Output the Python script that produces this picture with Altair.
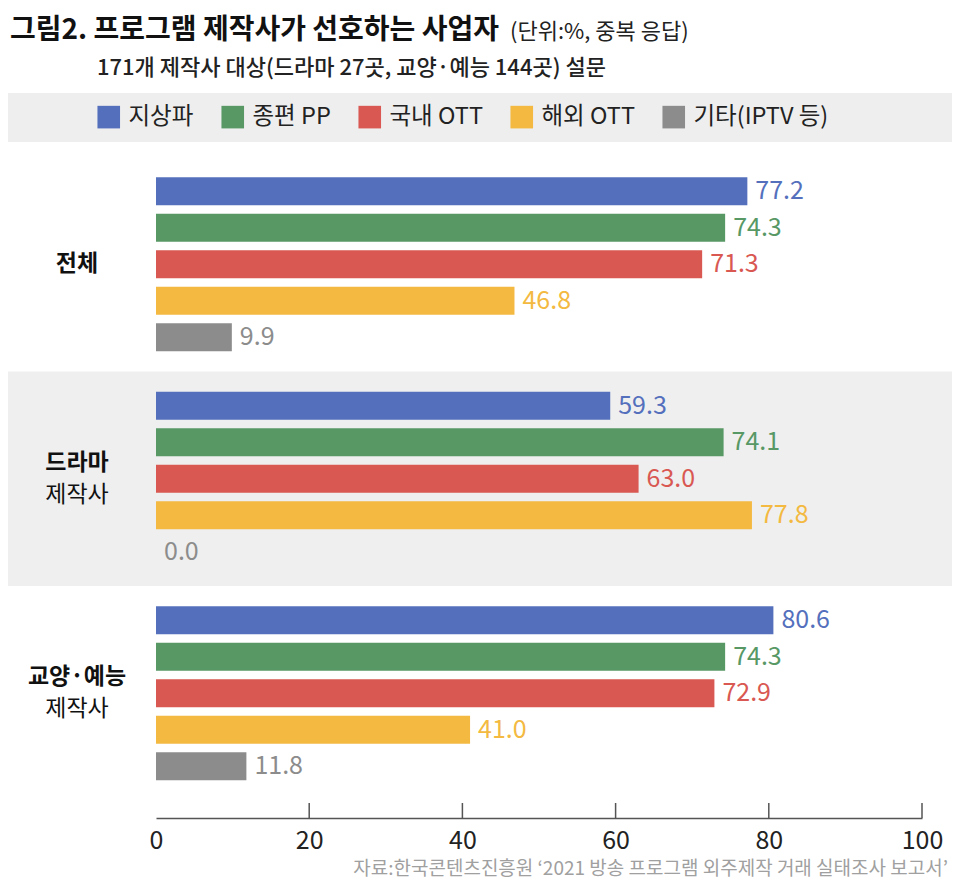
import altair as alt
import pandas as pd

F = "Noto Sans CJK KR"

groups = ["전체", "드라마", "교양·예능"]
series = ["지상파", "종편 PP", "국내 OTT", "해외 OTT", "기타(IPTV 등)"]
colors = ["#5470bd", "#589865", "#d95852", "#f3b941", "#8c8c8c"]
v_total = [77.2, 74.3, 71.3, 46.8, 9.9]
v_drama = [59.3, 74.1, 63.0, 77.8, 0.0]
v_variety = [80.6, 74.3, 72.9, 41.0, 11.8]
label_single = ["전체"]
label_top = ["드라마", "교양·예능"]
label_bottom = ["제작사", "제작사"]
x_ticks = [0, 20, 40, 60, 80, 100]

title_main = "그림2. 프로그램 제작사가 선호하는 사업자"
title_unit = "(단위:%, 중복 응답)"
subtitle = "171개 제작사 대상(드라마 27곳, 교양·예능 144곳) 설문"
source = "자료:한국콘텐츠진흥원 ‘2021 방송 프로그램 외주제작 거래 실태조사 보고서’"

rows = []
for g, vals in zip(groups, [v_total, v_drama, v_variety]):
    for s, v in zip(series, vals):
        rows.append({"group": g, "series": s, "value": v})
df = pd.DataFrame(rows)

W, H = 766, 661

yscale = alt.Scale(type="band", domain=groups, paddingInner=0, paddingOuter=0.0408, align=0)
yoff_scale = alt.Scale(domain=series, paddingInner=0.233, paddingOuter=0.555)
xscale = alt.Scale(domain=[0, 100], nice=False, zero=True)
color_scale = alt.Scale(domain=series, range=colors)

legend = alt.Legend(
    title=None, orient="none", legendX=-59, legendY=-52, direction="horizontal",
    symbolType="square", symbolSize=510, labelFontSize=23.5, labelFont=F,
    labelColor="#222", columnPadding=27, labelOffset=8, padding=0,
    symbolStrokeWidth=0, symbolOpacity=1,
)

# Decorative bands
legend_band = alt.Chart(pd.DataFrame({"a": [1]})).mark_rect(color="#eeeeee").encode(
    x=alt.value(-156), x2=alt.value(W + 40), y=alt.value(-64), y2=alt.value(-15)
)

group_band = alt.Chart(pd.DataFrame({"group": ["드라마"]})).mark_rect(color="#efefef").encode(
    y=alt.Y("group:N", scale=yscale, axis=None),
    x=alt.value(-156), x2=alt.value(W + 40),
)

bars = alt.Chart(df).mark_bar().encode(
    y=alt.Y("group:N", scale=yscale,
            axis=alt.Axis(labels=False, ticks=False, title=None, grid=False,
                          domainColor="#555", domainWidth=1.5, zindex=1)),
    yOffset=alt.YOffset("series:N", scale=yoff_scale),
    x=alt.X("value:Q", scale=xscale,
            axis=alt.Axis(values=x_ticks, ticks=False, grid=False, title=None,
                          labelFontSize=25, labelFont=F, labelColor="#222",
                          labelPadding=10, domainColor="#555", domainWidth=1.5,
                          zindex=1, labelFlush=False, labelOverlap=False)),
    color=alt.Color("series:N", scale=color_scale, legend=legend),
)

values = alt.Chart(df).mark_text(align="left", baseline="middle", dx=8, fontSize=25, font=F).encode(
    y=alt.Y("group:N", scale=yscale, axis=None),
    yOffset=alt.YOffset("series:N", scale=yoff_scale),
    x=alt.X("value:Q", scale=xscale),
    text=alt.Text("value:Q", format=".1f"),
    color=alt.Color("series:N", scale=color_scale, legend=legend),
)

ticks = alt.Chart(pd.DataFrame({"t": x_ticks[1:]})).mark_rule(color="#555", strokeWidth=1.5).encode(
    x=alt.X("t:Q", scale=xscale), y=alt.value(H - 15), y2=alt.value(H)
)

lab_single = alt.Chart(pd.DataFrame({"group": ["전체"], "t": label_single})).mark_text(
    align="center", baseline="middle", fontSize=23, fontWeight="bold", font=F, color="#111"
).encode(y=alt.Y("group:N", scale=yscale, axis=None), x=alt.value(-79), text="t:N")

lab_top = alt.Chart(pd.DataFrame({"group": groups[1:], "t": label_top})).mark_text(
    align="center", baseline="middle", fontSize=23, fontWeight="bold", font=F, color="#111", dy=-16
).encode(y=alt.Y("group:N", scale=yscale, axis=None), x=alt.value(-79), text="t:N")

lab_bottom = alt.Chart(pd.DataFrame({"group": groups[1:], "t": label_bottom})).mark_text(
    align="center", baseline="middle", fontSize=23, fontWeight="normal", font=F, color="#111", dy=16
).encode(y=alt.Y("group:N", scale=yscale, axis=None), x=alt.value(-79), text="t:N")


def txt(text, x, y, size, weight, color, align="left"):
    return alt.Chart(pd.DataFrame({"t": [text]})).mark_text(
        align=align, baseline="middle", fontSize=size, fontWeight=weight, font=F, color=color
    ).encode(x=alt.value(x), y=alt.value(y), text="t:N")


t1 = txt(title_main, -146, -126, 28, "bold", "#111")
t2 = txt(title_unit, 354, -125, 22, "normal", "#222")
t3 = txt(subtitle, -59, -89, 22, 500, "#222")
t4 = txt(source, 792, 712, 19, "normal", "#a0a0a0", align="right")

chart = alt.layer(
    legend_band, group_band, bars, values, ticks, lab_single, lab_top, lab_bottom, t1, t2, t3, t4
).properties(
    width=W, height=H,
    autosize=alt.AutoSizeParams(type="none"),
    padding={"left": 148, "top": 149, "right": 30, "bottom": 70},
    background="white",
).configure_view(stroke=None)

chart.save("out.html", embed_options={"renderer": "svg", "actions": False})
